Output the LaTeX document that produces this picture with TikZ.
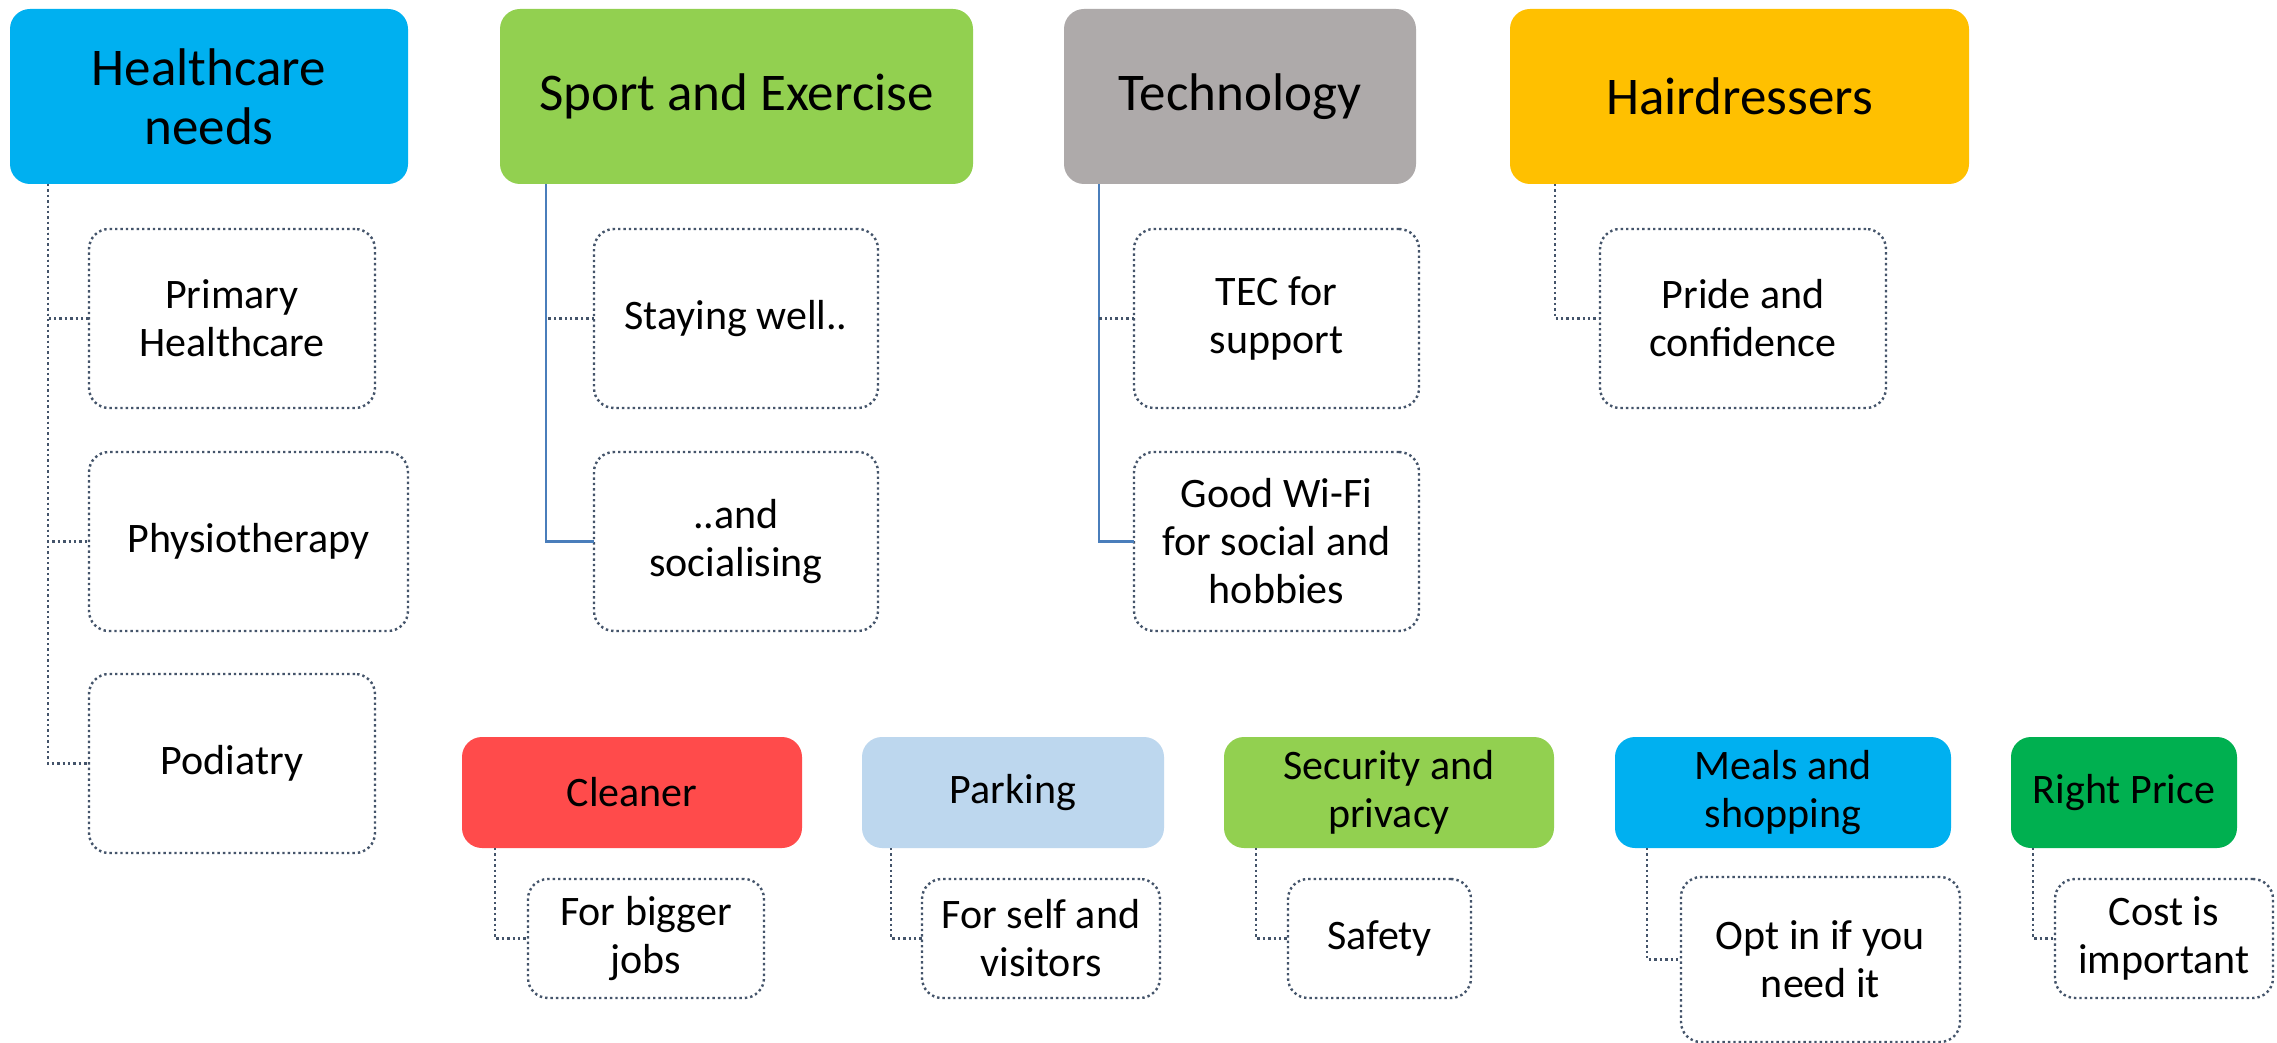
\documentclass[tikz,border=0pt]{standalone}
\usepackage{fontspec}
\setmainfont{Carlito}
\usetikzlibrary{
  calc,
  positioning,
}
\definecolor{cSky}{HTML}{00B0F0}
\definecolor{cLime}{HTML}{92D050}
\definecolor{cGrey}{HTML}{AEAAAA}
\definecolor{cGold}{HTML}{FFC000}
\definecolor{cRed}{HTML}{FF4B4B}
\definecolor{cPale}{HTML}{BDD7EE}
\definecolor{cGreen}{HTML}{00B050}
\definecolor{cLine}{HTML}{44546A}
\definecolor{cLink}{HTML}{4A7EBB}
\tikzset{
  x = 0.5pt,
  y = -0.5pt,
  hd/.style={
    anchor=north west, align=center, rounded corners=10pt,
    minimum height=87.5pt, inner sep=0pt, outer sep=0pt,
    font=\fontsize{26.5}{29.5}\selectfont,
  },
  sub/.style={
    anchor=north west, align=center, rounded corners=10pt,
    minimum height=55.5pt, inner sep=0pt, outer sep=0pt,
    font=\fontsize{21}{24}\selectfont,
  },
  leaf/.style={
    anchor=north west, align=center, rounded corners=10pt,
    draw=cLine, line width=1.2pt, dash pattern=on 1.2pt off 1.5pt,
    minimum height=89.5pt, inner sep=0pt, outer sep=0pt,
    font=\fontsize{21}{24}\selectfont,
  },
  dot/.style={draw=cLine, line width=1.2pt, dash pattern=on 1.2pt off 1.5pt},
  link/.style={draw=cLink, line width=1.2pt},
}

\begin{document}
\begin{tikzpicture}[
  small/.style={minimum height=59.5pt, font=\fontsize{21}{24}\selectfont},]
  \useasboundingbox[fill=white] (0,0) rectangle (2277,1043);
  %%
  \node[hd, fill=cSky, minimum width=199pt] (hc) at (10,9) {Healthcare\\needs};
  \node[hd, fill=cLime, minimum width=236.5pt] (sp) at (500,9) {Sport and Exercise};
  \node[hd, fill=cGrey, minimum width=176pt] (te) at (1064,9) {Technology};
  \node[hd, fill=cGold, minimum width=229.5pt] (ha) at (1510,9) {Hairdressers};
  %%
  \node[leaf, minimum width=143pt] (hc1) at (89,229) {Primary\\Healthcare};
  \node[leaf, minimum width=159.5pt] (hc2) at (89,452) {Physiotherapy};
  \node[leaf, minimum width=143pt] (hc3) at (89,674) {Podiatry};
  \node[leaf, minimum width=142pt] (sp1) at (594,229) {Staying well..};
  \node[leaf, minimum width=142pt] (sp2) at (594,452) {..and\\socialising};
  \node[leaf, minimum width=142.5pt] (te1) at (1134,229) {TEC for\\support};
  \node[leaf, minimum width=142.5pt] (te2) at (1134,452)
  {Good Wi-Fi\\for social and\\hobbies};
  \node[leaf, minimum width=143pt] (ha1) at (1600,229) {Pride and\\confidence};
  %%
  \node[sub, fill=cRed, minimum width=170pt] (cl) at (462,737) {Cleaner};
  \node[sub, fill=cPale, minimum width=151pt] (pa) at (862,737) {Parking};
  \node[sub, fill=cLime, minimum width=165pt] (se) at (1224,737)
  {Security and\\privacy};
  \node[sub, fill=cSky, minimum width=168pt] (me) at (1615,737)
  {Meals and\\shopping};
  \node[sub, fill=cGreen, minimum width=113pt] (rp) at (2011,737) {Right Price};
  %%
  \node[leaf, small, minimum width=118pt] (cl1) at (528,879) {For bigger\\jobs};
  \node[leaf, small, minimum width=119pt] (pa1) at (922,879)
  {For self and\\visitors};
  \node[leaf, small, minimum width=91.5pt] (se1) at (1288,879) {Safety};
  \node[leaf, small, minimum width=139.5pt, minimum height=82.5pt] (me1)
  at (1681,877) {Opt in if you\\need it};
  \node[leaf, small, minimum width=109pt] (rp1) at (2055,879)
  {Cost is\\important};
  %%
  \coordinate (hcl) at ($(hc.south west)+(38,0)$);
  \draw[dot] (hcl) |- (hc1.west);
  \draw[dot] (hcl) |- (hc2.west);
  \draw[dot] (hcl) |- (hc3.west);
  %%
  \coordinate (spl) at ($(sp.south west)+(46,0)$);
  \draw[link] (spl) |- (sp2.west);
  \draw[dot] (sp1.west) -- (sp1.west -| spl);
  %%
  \coordinate (tel) at ($(te.south west)+(35,0)$);
  \draw[link] (tel) |- (te2.west);
  \draw[dot] (te1.west) -- (te1.west -| tel);
  %%
  \draw[dot] ($(ha.south west)+(45,0)$) |- (ha1.west);
  %%
  \draw[dot] ($(cl.south west)+(33,0)$) |- (cl1.west);
  \draw[dot] ($(pa.south west)+(29,0)$) |- (pa1.west);
  \draw[dot] ($(se.south west)+(32,0)$) |- (se1.west);
  \draw[dot] ($(me.south west)+(32,0)$) |- (me1.west);
  \draw[dot] ($(rp.south west)+(22,0)$) |- (rp1.west);
\end{tikzpicture}
\end{document}
